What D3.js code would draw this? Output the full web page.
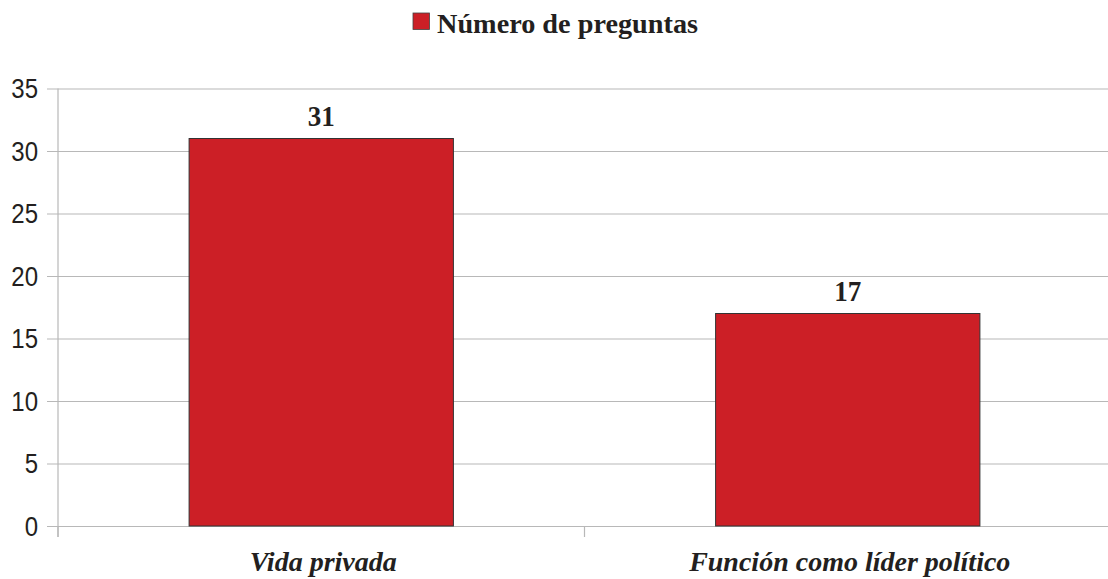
<!DOCTYPE html>
<html>
<head>
<meta charset="utf-8">
<script src="https://cdn.jsdelivr.net/npm/d3@7"></script>
<style>
  html, body { margin: 0; padding: 0; background: #fff; }
  svg { display: block; }
</style>
</head>
<body>
<script>
const categories = ["Vida privada", "Función como líder político"];
const values = [31, 17];
const seriesName = "Número de preguntas";
const yTicks = [0, 5, 10, 15, 20, 25, 30, 35];

const W = 1108, H = 579;
const plot = { left: 58, right: 1111, top: 88.5, bottom: 526 };
const red = "#cc1f26", ink = "#231f20", grid = "#b8b8b8";

const svg = d3.select("body").append("svg").attr("width", W).attr("height", H);

const x = d3.scaleBand().domain(categories).range([plot.left, plot.right]).padding(0);
const y = d3.scaleLinear().domain([0, 35]).range([plot.bottom, plot.top]);

// gridlines + y ticks
const yAxis = d3.axisLeft(y).tickValues(yTicks).tickSize(-(W - plot.left)).tickSizeOuter(0).tickPadding(18);
const gy = svg.append("g").attr("transform", `translate(${plot.left},0)`).call(yAxis);
gy.select(".domain").remove();
gy.selectAll(".tick line").attr("stroke", grid).attr("stroke-width", 1.2).attr("x1", -11);
gy.selectAll(".tick text")
  .attr("font-family", "'Liberation Sans', Arial, sans-serif")
  .attr("font-size", 27).attr("fill", ink).attr("x", -20)
  .attr("dy", "0.35em")
  .each(function(d) {
    const n = String(d).length;
    d3.select(this).attr("textLength", n * 13.35).attr("lengthAdjust", "spacingAndGlyphs");
  });

// y axis line
svg.append("line")
  .attr("x1", plot.left).attr("x2", plot.left)
  .attr("y1", y(35)).attr("y2", plot.bottom + 11)
  .attr("stroke", grid).attr("stroke-width", 1.2);

// x category boundary ticks
const bounds = categories.map(c => x(c)).concat([x(categories[categories.length - 1]) + x.bandwidth()]);
svg.append("g").selectAll("line").data(bounds).join("line")
  .attr("x1", d => d).attr("x2", d => d)
  .attr("y1", plot.bottom).attr("y2", plot.bottom + 11)
  .attr("stroke", grid).attr("stroke-width", 1.2);

// bars
const barW = x.bandwidth() * 0.502;
svg.append("g").selectAll("rect").data(values).join("rect")
  .attr("x", (d, i) => x(categories[i]) + (x.bandwidth() - barW) / 2)
  .attr("y", d => y(d))
  .attr("width", barW)
  .attr("height", d => plot.bottom - y(d))
  .attr("fill", red).attr("stroke", "#333").attr("stroke-width", 1);

// value labels
svg.append("g").selectAll("text").data(values).join("text")
  .attr("x", (d, i) => x(categories[i]) + x.bandwidth() / 2)
  .attr("y", d => y(d) - 13)
  .attr("text-anchor", "middle")
  .attr("font-family", "'Liberation Serif', 'Times New Roman', serif")
  .attr("font-weight", "bold").attr("font-size", 30).attr("fill", ink)
  .attr("textLength", 27).attr("lengthAdjust", "spacingAndGlyphs")
  .text(d => d);

// x labels
svg.append("g").selectAll("text").data(categories).join("text")
  .attr("x", d => x(d) + x.bandwidth() / 2 + 2)
  .attr("y", 571)
  .attr("text-anchor", "middle")
  .attr("font-family", "'Liberation Serif', 'Times New Roman', serif")
  .attr("font-weight", "bold").attr("font-style", "italic")
  .attr("font-size", 28).attr("fill", ink)
  .text(d => d);

// legend
const lg = svg.append("g");
lg.append("rect").attr("x", 413).attr("y", 13).attr("width", 16.5).attr("height", 16.5)
  .attr("fill", red).attr("stroke", "#444").attr("stroke-width", 0.8);
lg.append("text").attr("x", 437).attr("y", 33)
  .attr("font-family", "'Liberation Serif', 'Times New Roman', serif")
  .attr("font-weight", "bold").attr("font-size", 28).attr("fill", ink)
  .attr("textLength", 261).attr("lengthAdjust", "spacingAndGlyphs")
  .text(seriesName);
</script>
</body>
</html>
